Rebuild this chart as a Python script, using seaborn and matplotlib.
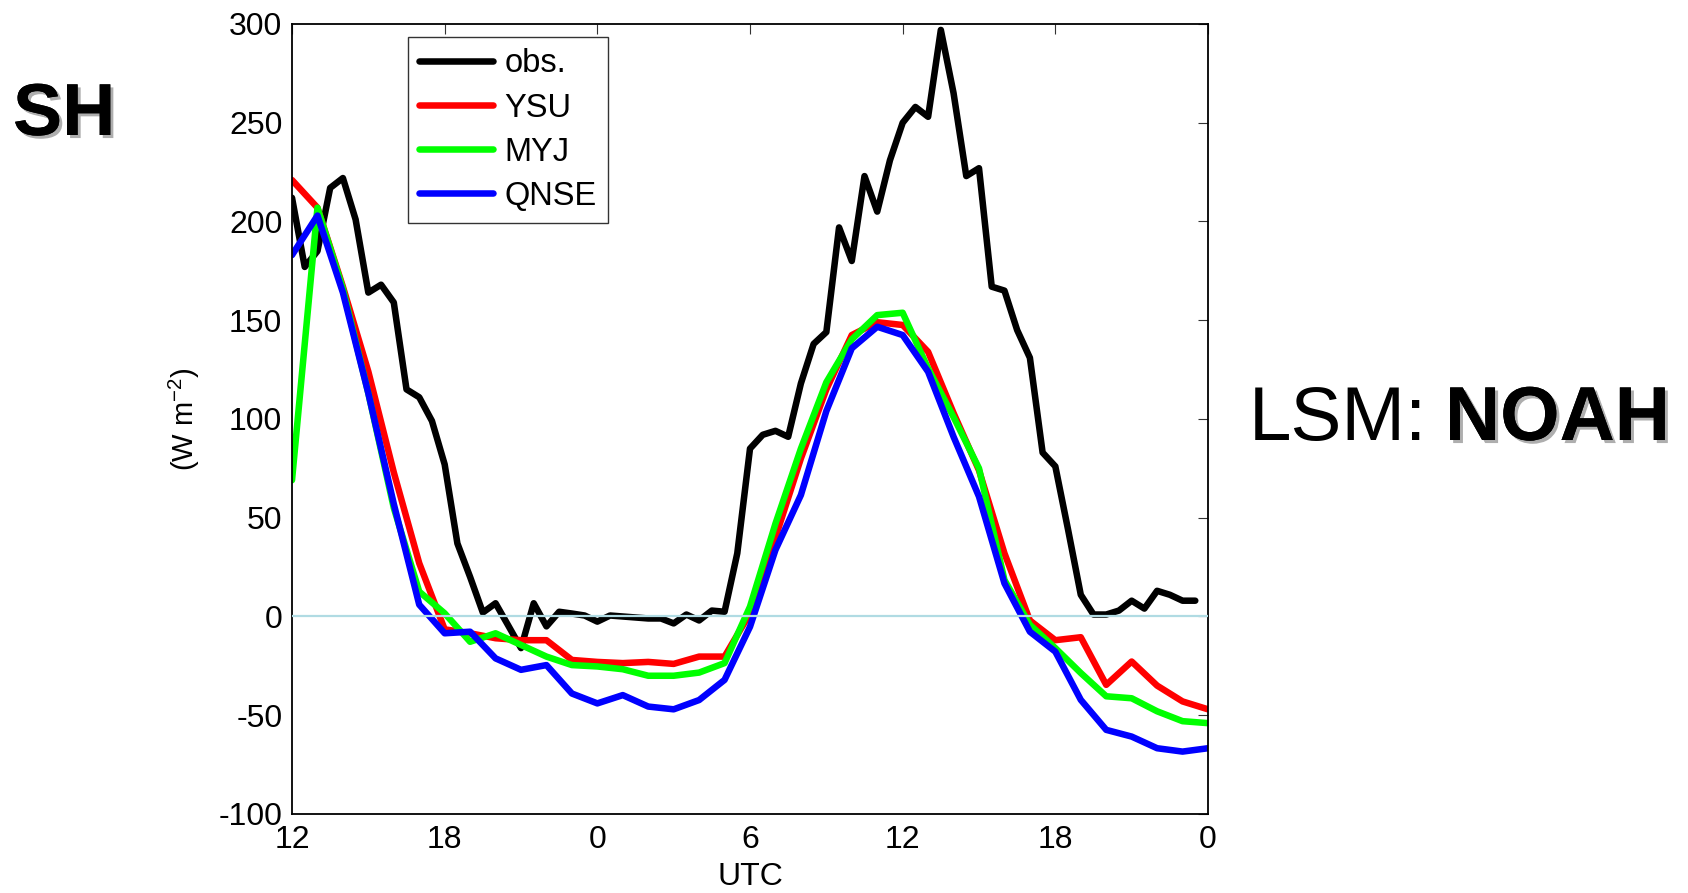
import numpy as np
import pandas as pd
import matplotlib
matplotlib.use("Agg")
import matplotlib.pyplot as plt
import matplotlib.patheffects as pe
import seaborn as sns

# Sensible heat flux (W m-2): observations every half hour, model runs hourly,
# hours counted from 12 UTC on the first day.
obs_hours = np.arange(0, 36, 0.5)
obs = [212, 177, 185, 217, 222, 201, 164, 168, 159, 115, 111, 99,
       77, 37, 20, 2, 6.7, -4.6, -16, 6.7, -5, 2.4, 1.5, 0.5,
       -2.6, 0.5, 0, -0.5, -1, -1, -3.5, 1, -2, 3, 2.4, 32,
       85, 92, 94, 91, 118, 138, 144, 197, 180, 223, 205, 231,
       250, 258, 253, 297, 265, 223, 227, 167, 165, 145, 131, 83,
       76, 44, 11, 1, 1, 3, 8, 4, 13, 11, 8, 8]

model_hours = np.arange(0, 37, 1)
ysu = [221, 207, 167, 124, 73, 27, -6.5, -8.5, -11, -12, -12, -22, -23,
       -23.6, -23, -24, -20.3, -20.3, 1.6, 40, 80, 115, 142.5, 149, 147.6,
       134, 103, 74, 32, -2, -12, -10.5, -34.6, -22.8, -35, -43, -47]
myj = [69, 207, 166, 113, 55, 12.6, 1.6, -12.8, -8.5, -14.4, -20.3, -24.6,
       -25.3, -26.7, -30, -30, -28.4, -23.6, 5, 47, 85, 118.6, 140.3, 152.6,
       153.8, 125.6, 101, 75, 18.5, -4.2, -16, -28.6, -40.4, -41.4, -48, -53, -54]
qnse = [183, 203, 164, 113, 57, 6, -8.5, -7.7, -21.2, -27, -24.6, -39, -44,
        -39.8, -45.6, -47, -42.3, -32.1, -5.2, 33.7, 61.5, 104, 135.8, 146.7,
        142.5, 123.9, 91, 60.7, 16.8, -7.7, -17.8, -42.2, -57.4, -60.8, -66.7,
        -68.4, -66.7]

series_names = ["obs.", "YSU", "MYJ", "QNSE"]
series_colors = ["#000000", "#ff0000", "#00ff00", "#0000ff"]

tick_hours = [0, 6, 12, 18, 24, 30, 36]
tick_labels = ["12", "18", "0", "6", "12", "18", "0"]
y_ticks = [-100, -50, 0, 50, 100, 150, 200, 250, 300]

frames = [pd.DataFrame({"hour": obs_hours, "flux": obs, "run": "obs."})]
for name, vals in zip(["YSU", "MYJ", "QNSE"], [ysu, myj, qnse]):
    frames.append(pd.DataFrame({"hour": model_hours, "flux": vals, "run": name}))
data = pd.concat(frames, ignore_index=True)

sns.set_style("white")
plt.rcParams["font.family"] = ["Liberation Sans", "DejaVu Sans"]
plt.rcParams["mathtext.fontset"] = "custom"
plt.rcParams["mathtext.rm"] = "Liberation Sans"
plt.rcParams["mathtext.it"] = "Liberation Sans:italic"
plt.rcParams["axes.unicode_minus"] = False
for key in ["text.color", "axes.labelcolor", "xtick.color", "ytick.color"]:
    plt.rcParams[key] = "black"

fig = plt.figure(figsize=(16.88, 8.93), dpi=100)
ax = fig.add_axes([0.17299, 0.08847, 0.54265, 0.88466])

LW = 4.7
sns.lineplot(data=data, x="hour", y="flux", hue="run", hue_order=series_names,
             palette=dict(zip(series_names, series_colors)), estimator=None,
             sort=False, linewidth=LW, ax=ax)

ax.axhline(0, color="#b0dbe3", linewidth=1.6, zorder=5)

ax.set_xlim(0, 36)
ax.set_ylim(-100, 300)
ax.set_xticks(tick_hours)
ax.set_xticklabels(tick_labels)
ax.set_yticks(y_ticks)
ax.tick_params(axis="both", which="both", direction="in", length=7,
               width=0.8, labelsize=23, top=True, right=True,
               color="#333333", labelcolor="black")
ax.tick_params(axis="x", pad=8)
ax.tick_params(axis="y", pad=7)
for sp in ax.spines.values():
    sp.set_visible(True)
    sp.set_color("black")
    sp.set_linewidth(1.3)

ax.set_xlabel("UTC", fontsize=23, labelpad=5)
ax.set_ylabel("(W m$^{-2}$)", fontsize=21, va="center")
ax.yaxis.set_label_coords(-0.117, 0.5)

leg = ax.legend(loc="upper left", bbox_to_anchor=(0.1266, 0.9835),
                fontsize=23.5, frameon=True, fancybox=False, edgecolor="black",
                handlelength=2.25, handletextpad=0.35, labelspacing=0.4,
                borderpad=0.35, borderaxespad=0)
leg.get_frame().set_linewidth(1.0)
for line in leg.get_lines():
    line.set_linewidth(LW)

shadow = [pe.withSimplePatchShadow(offset=(2.2, -2.2), shadow_rgbFace="#9a9a9a", alpha=0.8),
          pe.Normal()]
fig.text(13 / 1688, 1 - 135 / 893, "SH", fontsize=53, fontweight="bold",
         ha="left", va="baseline", path_effects=shadow)
fig.text(1249 / 1688, 1 - 440 / 893, "LSM:", fontsize=55,
         ha="left", va="baseline")
fig.text(1445 / 1688, 1 - 440 / 893, "NOAH", fontsize=55, fontweight="bold",
         ha="left", va="baseline", path_effects=shadow)

fig.savefig("out.png", dpi=100)
